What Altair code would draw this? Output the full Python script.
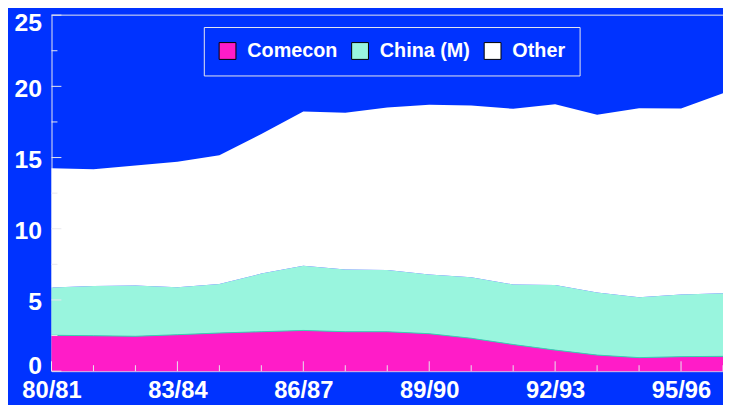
import altair as alt
import pandas as pd

years = ["80/81", "81/82", "82/83", "83/84", "84/85", "85/86", "86/87", "87/88", "88/89",
         "89/90", "90/91", "91/92", "92/93", "93/94", "94/95", "95/96", "96/97"]
comecon = [2.52, 2.49, 2.45, 2.56, 2.68, 2.77, 2.86, 2.77, 2.77, 2.63, 2.31, 1.87, 1.48, 1.13, 0.95, 1.02, 1.04]
china = [3.35, 3.49, 3.57, 3.33, 3.44, 4.08, 4.55, 4.36, 4.34, 4.16, 4.29, 4.22, 4.57, 4.39, 4.24, 4.36, 4.43]
other = [8.37, 8.19, 8.43, 8.81, 9.05, 9.80, 10.83, 11.01, 11.40, 11.91, 12.05, 12.33, 12.69, 12.48, 13.28, 13.06, 14.05]
series = ["Comecon", "China (M)", "Other"]
colors = ["#FF1CC8", "#99F5DE", "#FFFFFF"]
y_major = [0, 5, 10, 15, 20, 25]
y_minor = [2.5, 7.5, 12.5, 17.5, 22.5]
x_major = [0, 3, 6, 9, 12, 15]
x_minor = [1, 2, 4, 5, 7, 8, 10, 11, 13, 14, 16]

BLUE = "#0033FF"
FRAME = "#e8e8ee"
FONT = "Liberation Sans"
W, H = 679, 360

rows = []
for i, yl in enumerate(years):
    for k, (name, vals) in enumerate(zip(series, [comecon, china, other])):
        rows.append({"i": i, "year": yl, "series": name, "value": vals[i], "order": k})
df = pd.DataFrame(rows)

label_expr = "[" + ",".join(f"'{y}'" for y in years) + "][datum.value]"
xscale = alt.Scale(domain=[0, len(years) - 1], nice=False, zero=False)
yscale = alt.Scale(domain=[0, 25], nice=False)

x_axis = alt.Axis(values=x_major, labelExpr=label_expr, title=None, ticks=False, grid=False,
                  domainColor=FRAME, domainWidth=1, labelColor="white", labelFont=FONT,
                  labelFontSize=24, labelFontWeight="bold", labelPadding=8,
                  labelFlush=False, labelOverlap=False)
y_axis = alt.Axis(values=y_major, title=None, ticks=False, grid=False,
                  domainColor=FRAME, domainWidth=1, labelColor="white", labelFont=FONT,
                  labelFontSize=25, labelFontWeight="bold", labelPadding=10,
                  labelOffset={"condition": [
                      {"test": f"datum.value == {max(y_major)}", "value": 8},
                      {"test": f"datum.value == {min(y_major)}", "value": -6},
                  ], "value": 2},
                  labelFlush=False, labelOverlap=False)

area = alt.Chart(df).mark_area(opacity=1).encode(
    x=alt.X("i:Q", scale=xscale, axis=x_axis),
    y=alt.Y("value:Q", stack="zero", scale=yscale, axis=y_axis),
    color=alt.Color("series:N", scale=alt.Scale(domain=series, range=colors),
                    legend=alt.Legend(title=None, orient="none", legendX=154, legendY=12,
                                      direction="horizontal", strokeColor=FRAME, fillColor=BLUE,
                                      padding=14, symbolType="square", symbolSize=289,
                                      symbolStrokeColor="black", symbolStrokeWidth=1,
                                      symbolOpacity=1, labelColor="white", labelFont=FONT,
                                      labelFontSize=20, labelFontWeight="bold", labelOffset=10,
                                      columnPadding=11)),
    order=alt.Order("order:Q"),
)

boundary = alt.Chart(pd.DataFrame({"i": list(range(len(years))), "value": comecon})).mark_line(
    color="#3CCFAE", strokeWidth=1
).encode(
    x=alt.X("i:Q", scale=xscale, axis=x_axis),
    y=alt.Y("value:Q", scale=yscale, axis=y_axis),
)

top_frame = alt.Chart(pd.DataFrame({"a": [0]})).mark_rule(color=FRAME, strokeWidth=1).encode(
    x=alt.datum(0), x2=alt.datum(len(years) - 1), y=alt.datum(25)
)

ytick_major = alt.Chart(pd.DataFrame({"value": y_major})).mark_rule(color=FRAME).encode(
    y=alt.Y("value:Q", scale=yscale, axis=y_axis), x=alt.value(0), x2=alt.value(10)
)
ytick_minor = alt.Chart(pd.DataFrame({"value": y_minor})).mark_rule(color=FRAME).encode(
    y=alt.Y("value:Q", scale=yscale, axis=y_axis), x=alt.value(0), x2=alt.value(6)
)
xtick_major = alt.Chart(pd.DataFrame({"i": x_major})).mark_rule(color=FRAME).encode(
    x=alt.X("i:Q", scale=xscale, axis=x_axis), y=alt.value(H), y2=alt.value(H - 10)
)
xtick_minor = alt.Chart(pd.DataFrame({"i": x_minor})).mark_rule(color=FRAME).encode(
    x=alt.X("i:Q", scale=xscale, axis=x_axis), y=alt.value(H), y2=alt.value(H - 6)
)

chart = alt.layer(
    area, boundary, top_frame, ytick_major, ytick_minor, xtick_major, xtick_minor
).properties(
    width=W, height=H,
    autosize="none",
    padding={"left": 44, "top": 5, "right": 0, "bottom": 32},
    background=BLUE,
).configure_view(stroke=None, fill=BLUE)

chart.save("out.html", embed_options={"renderer": "svg", "actions": False})
